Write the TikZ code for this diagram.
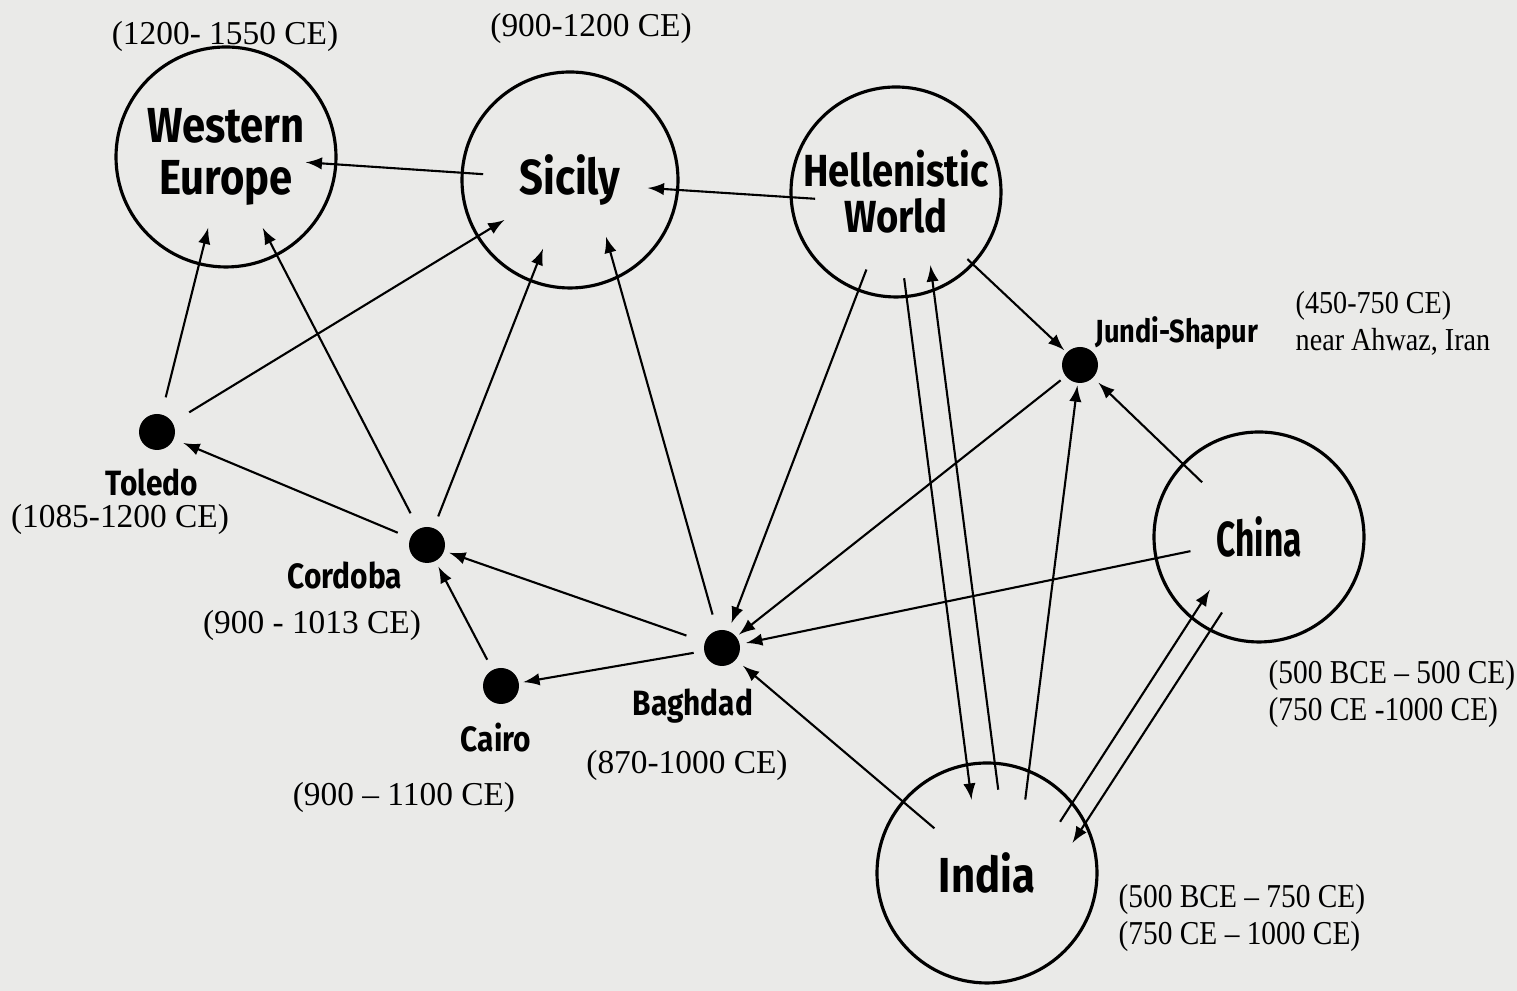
\documentclass[tikz,border=0pt]{standalone}
\usepackage{fontspec}
\setmainfont{Liberation Serif}
\newfontfamily\narrowserif[FakeStretch=0.88]{Liberation Serif}
\newfontfamily\placefont[FakeStretch=0.85]{Fira Sans}
\newfontfamily\tightplacefont[FakeStretch=0.68]{Fira Sans}
\usetikzlibrary{%
  arrows,%
  calc,%
  positioning%
}
\tikzset{>=latex}
\definecolor{paper}{RGB}{234,234,232}
\tikzset{
  region/.style={circle,draw,line width=0.9pt,inner sep=0pt,minimum size=2.16cm,
    align=center,font=\placefont\bfseries\fontsize{14}{15}\selectfont},
  city/.style={circle,fill=black,inner sep=0pt,minimum size=0.36cm},
  cityname/.style={font=\placefont\bfseries\fontsize{10}{12}\selectfont,inner sep=0pt},
  era/.style={font=\fontsize{9.5}{10.5}\selectfont,align=left,inner sep=0pt},
  farera/.style={era,anchor=west,font=\narrowserif\fontsize{9.5}{10.5}\selectfont},
  flow/.style={->,line width=0.6pt}
}

\begin{document}
\begin{tikzpicture}
    \fill[paper] (0,0) rectangle (15.17,9.91);
    \useasboundingbox (0,0) rectangle (15.17,9.91);
    % regions
    \node[region,minimum size=2.2cm] (we) at (2.26,8.34) {Western\\Europe};
    \node[region] (sic) at (5.70,8.11) {Sicily};
    \node[region,minimum size=2.1cm,font=\placefont\bfseries\fontsize{12.8}{13}\selectfont] (hel) at (8.96,7.99) {Hellenistic\\World};
    \node[region,minimum size=2.1cm,font=\tightplacefont\bfseries\fontsize{14}{15}\selectfont] (chi) at (12.59,4.54) {China};
    \node[region,minimum size=2.2cm] (ind) at (9.87,1.18) {India};
    % cities
    \node[city] (tol) at (1.57,5.59) {};
    \node[city] (cor) at (4.27,4.46) {};
    \node[city] (cai) at (5.01,3.05) {};
    \node[city] (bag) at (7.22,3.43) {};
    \node[city] (jun) at (10.80,6.26) {};
    \node[cityname] (tolname) at (1.52,5.09) {Toledo};
    \node[cityname] (corname) at (3.45,4.16) {Cordoba};
    \node[cityname] (cainame) at (4.96,2.53) {Cairo};
    \node[cityname] (bagname) at (6.93,2.85) {Baghdad};
    \node[cityname,font=\placefont\bfseries\fontsize{9.1}{11}\selectfont] (junname) at (11.77,6.58) {Jundi-Shapur};
    % dates
    \node[era] (weera) at (2.25,9.55) {(1200- 1550 CE)};
    \node[era] (sicera) at (5.91,9.63) {(900-1200 CE)};
    \node[era] (tolera) at (1.20,4.72) {(1085-1200 CE)};
    \node[era] (corera) at (3.12,3.66) {(900 - 1013 CE)};
    \node[era] (caiera) at (4.04,1.94) {(900 – 1100 CE)};
    \node[era] (bagera) at (6.87,2.26) {(870-1000 CE)};
    \node[farera,font=\narrowserif\fontsize{9.1}{10.5}\selectfont] (junera) at (12.95,6.68) {(450-750 CE)\\near Ahwaz, Iran};
    \node[farera] (chiera) at (12.68,2.97) {(500 BCE – 500 CE)\\(750 CE -1000 CE)};
    \node[farera] (indera) at (11.18,0.73) {(500 BCE – 750 CE)\\(750 CE – 1000 CE)};
    % transmission
    \draw[flow,shorten <=0.87cm,shorten >=0.80cm] (sic.center) -- (we.center);
    \draw[flow,shorten <=0.81cm,shorten >=0.78cm] ($(hel.center)+(0,-0.12)$) -- ($(sic.center)+(0,-0.03)$);
    \draw[flow,shorten <=0.98cm,shorten >=0.03cm] (hel.center) -- (jun);
    \draw[flow,shorten <=0.17cm,shorten >=0.73cm] (tol) -- (we.center);
    \draw[flow,shorten <=0.19cm,shorten >=0.77cm] (tol) -- (sic.center);
    \draw[flow,shorten <=0.17cm,shorten >=0.80cm] (cor) -- (we.center);
    \draw[flow,shorten <=0.12cm,shorten >=0.74cm] (cor) -- (sic.center);
    \draw[flow,shorten <=0.13cm,shorten >=0.10cm] (cor) -- (tol);
    \draw[flow,shorten <=0.11cm,shorten >=0.06cm] (cai) -- (cor);
    \draw[flow,shorten <=0.19cm,shorten >=0.05cm] (bag) -- (cor);
    \draw[flow,shorten <=0.10cm,shorten >=0.04cm] (bag) -- (cai);
    \draw[flow,shorten <=0.16cm,shorten >=0.59cm] (bag) -- ($(sic.center)+(0.2,0)$);
    \draw[flow,shorten <=0.83cm,shorten >=0.08cm] (hel.center) -- (bag);
    \draw[flow,shorten <=0.06cm,shorten >=0.03cm] (jun) -- (bag);
    \draw[flow,shorten <=0.70cm,shorten >=0.06cm] (chi.center) -- (bag);
    \draw[flow,shorten <=0.79cm,shorten >=0.07cm] (chi.center) -- (jun);
    \draw[flow,shorten <=0.69cm,shorten >=0.09cm] (ind.center) -- (bag);
    \draw[flow,shorten <=0.74cm,shorten >=0.02cm] ($(ind.center)+(0.29,0)$) -- (jun);
    \draw[flow,shorten <=0.87cm,shorten >=0.74cm] ($(hel.center)+(-0.03,0)$) -- ($(ind.center)+(-0.06,0)$);
    \draw[flow,shorten <=0.84cm,shorten >=0.74cm] ($(ind.center)+(0.22,0)$) -- ($(hel.center)+(0.25,0)$);
    \draw[flow,shorten <=0.61cm,shorten >=0.63cm] ($(ind.center)+(0.40,0)$) -- ($(chi.center)+(-0.15,0)$);
    \draw[flow,shorten <=0.90cm,shorten >=0.36cm] ($(chi.center)+(0.12,0)$) -- ($(ind.center)+(0.66,0)$);
  \end{tikzpicture}
\end{document}
